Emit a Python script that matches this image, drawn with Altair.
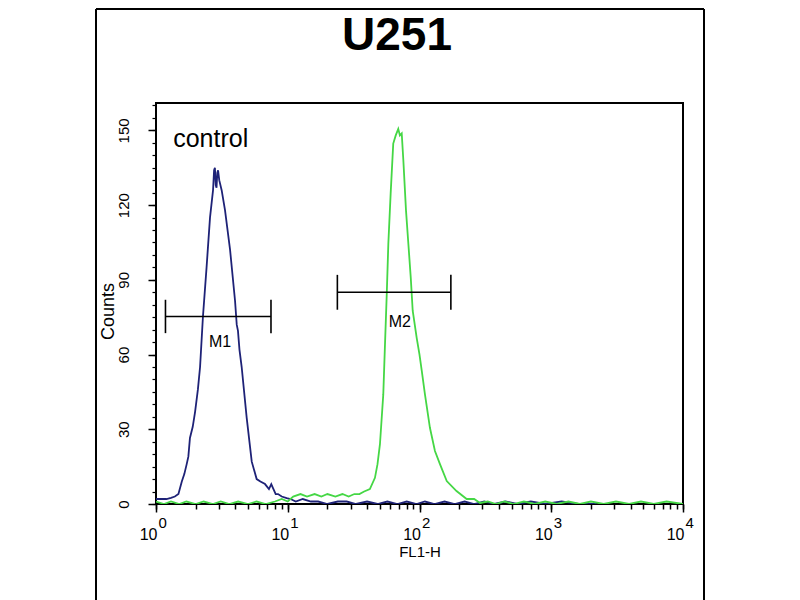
import altair as alt
import pandas as pd

FONT = "Liberation Sans"

# ---- data (FL1-H value, counts) ----
blue_points = [
    (1.0, 2), (1.1, 2), (1.2, 2), (1.3, 2.5), (1.39, 3), (1.48, 4), (1.57, 9),
    (1.64, 12), (1.71, 16), (1.76, 19), (1.81, 26.5), (1.9, 31), (1.98, 37),
    (2.08, 46), (2.16, 55), (2.27, 75), (2.42, 95), (2.57, 115), (2.71, 126),
    (2.76, 134), (2.80, 135), (2.84, 128), (2.88, 127), (2.92, 133), (2.96, 134),
    (3.02, 130), (3.15, 126), (3.34, 118), (3.65, 102), (3.98, 81.6), (4.10, 72),
    (4.19, 69.5), (4.3, 62), (4.47, 55), (4.88, 34.6), (5.33, 17), (5.81, 10),
    (6.2, 9), (6.72, 8), (7.2, 6), (7.5, 8), (7.73, 6.4), (8.1, 4), (8.44, 4),
    (9.0, 3), (9.82, 2.4), (10.5, 2), (11.5, 1), (13, 2), (15, 1), (17, 1),
    (20, 0), (24, 1), (28, 1), (33, 0), (40, 1), (48, 0), (57, 1), (68, 0),
    (80, 1), (95, 0), (110, 1), (130, 0), (155, 1), (185, 0), (220, 1), (260, 0),
    (310, 1), (370, 0), (450, 1), (550, 0), (700, 1), (900, 0), (1200, 1),
    (1600, 0), (2200, 0),
]

green_points = [
    (1.0, 1), (1.15, 0), (1.3, 1), (1.5, 0), (1.7, 1), (2.0, 0), (2.3, 1),
    (2.7, 0), (3.1, 1), (3.6, 0), (4.2, 1), (5.0, 0), (5.8, 1), (6.8, 0),
    (8.0, 1), (9.0, 2), (10.0, 1), (11, 3), (12.5, 4), (14, 3), (16, 4),
    (18, 3), (20, 4), (23, 3), (26, 4), (29, 3), (32, 4), (35, 4), (38, 5),
    (42, 6), (45.9, 10.5), (48, 16), (50.1, 24), (53.1, 44), (54.7, 64),
    (56.4, 84), (58, 104.5), (60.4, 124.6), (63.2, 144.7), (66, 148),
    (69, 150.6), (71, 148), (73.3, 148.8), (75.4, 138), (79, 117.8),
    (82.3, 104.5), (85.8, 91), (88.8, 77.6), (95.2, 66.7), (100, 60),
    (104, 53.5), (110, 44), (120, 30.6), (131, 21.3), (143, 16), (161, 9.2),
    (191, 5.2), (228, 2), (260, 2), (288, 0.4), (330, 1), (380, 0), (440, 1),
    (520, 0), (620, 1), (750, 0), (900, 1), (1100, 0), (1350, 1), (1650, 0),
    (2000, 1), (2500, 0), (3100, 1), (3900, 0), (4800, 1), (6000, 0),
    (7500, 1), (10000, 0),
]

y_major = [0, 30, 60, 90, 120, 150]
y_minor = [0, 5, 10, 15, 20, 25, 30, 35, 40, 45, 50, 55, 60, 65, 70, 75, 80,
           85, 90, 95, 100, 105, 110, 115, 120, 125, 130, 135, 140, 145, 150,
           155, 160]
x_major = [1, 10, 100, 1000, 10000]
x_minor = [2, 3, 4, 5, 6, 7, 8, 9, 20, 30, 40, 50, 60, 70, 80, 90,
           200, 300, 400, 500, 600, 700, 800, 900,
           2000, 3000, 4000, 5000, 6000, 7000, 8000, 9000]

marker_names = ["M1", "M2"]
marker_lo = [1.18, 23.8]
marker_hi = [7.46, 173]
marker_y = [75.3, 85]
marker_cap_lo = [68.6, 78]
marker_cap_hi = [82, 92]
marker_label_x = [3.06, 71]
marker_label_y = [65, 73]

control_label = ["control"]
control_x = [1.35]
control_y = [143.3]

chart_title = ["U251"]

W, H = 527, 401

blue = pd.DataFrame(blue_points, columns=["fl", "count"])
green = pd.DataFrame(green_points, columns=["fl", "count"])
mk = pd.DataFrame({
    "name": marker_names, "lo": marker_lo, "hi": marker_hi, "y": marker_y,
    "clo": marker_cap_lo, "chi": marker_cap_hi,
    "lx": marker_label_x, "ly": marker_label_y,
})
ctrl = pd.DataFrame({"t": control_label, "x": control_x, "y": control_y})
ttl = pd.DataFrame({"t": chart_title})
one = pd.DataFrame({"a": [0]})

xs = alt.Scale(type="log", domain=[1, 10000], nice=False)
ys = alt.Scale(domain=[0, 161], nice=False, zero=False)

x_axis_major = alt.Axis(
    orient="bottom", values=x_major, tickSize=8, tickWidth=1.5, tickColor="black",
    domain=False, grid=False, labelExpr="'10'", labelAlign="right", labelOffset=1,
    labelFont=FONT, labelFontSize=16, labelColor="black", labelPadding=14,
    labelBaseline="top", labelFlush=False, labelOverlap=False,
    title="FL1-H", titleFont=FONT, titleFontSize=15, titleFontWeight="normal",
    titleColor="black", titleX=263.5, titleY=47, titleAlign="center",
    titleBaseline="middle",
)
x_axis_minor = alt.Axis(
    orient="bottom", values=x_minor + x_major, tickSize=5, tickWidth=1.5,
    tickColor="black", domain=False, grid=False,
    labelExpr="indexof([1,10,100,1000,10000], datum.value) >= 0 ? '' + round(log(datum.value)/LN10) : ''",
    labelAlign="left", labelOffset=2, labelFont=FONT, labelFontSize=15,
    labelColor="black", labelPadding=6, labelBaseline="top",
    labelFlush=False, labelOverlap=False, title=None,
)
y_axis_major = alt.Axis(
    orient="left", values=y_major, tickSize=8, tickWidth=1.5, tickColor="black",
    domain=False, grid=False, labelAngle=270, labelAlign="center",
    labelBaseline="bottom", labelPadding=17, labelFont=FONT, labelFontSize=15,
    labelColor="black", labelFlush=False, labelOverlap=False,
    title="Counts", titleFont=FONT, titleFontSize=18, titleFontWeight="normal",
    titleColor="black", titleAngle=270, titleX=-48, titleY=208,
    titleAlign="center", titleBaseline="middle",
)
y_axis_minor = alt.Axis(
    orient="left", values=y_minor, tickSize=4, tickWidth=1.2, tickColor="black",
    domain=False, grid=False, labels=False, title=None,
)

blue_line = alt.Chart(blue).mark_line(color="#1e2277", strokeWidth=1.8, clip=True).encode(
    x=alt.X("fl:Q", scale=xs, axis=x_axis_major),
    y=alt.Y("count:Q", scale=ys, axis=y_axis_major),
)
green_line = alt.Chart(green).mark_line(color="#45d745", strokeWidth=1.8, clip=True).encode(
    x=alt.X("fl:Q", scale=xs, axis=x_axis_minor),
    y=alt.Y("count:Q", scale=ys, axis=y_axis_minor),
)

hbar = alt.Chart(mk).mark_rule(color="black", strokeWidth=1.6).encode(
    x=alt.X("lo:Q", scale=xs, axis=None), x2="hi:Q",
    y=alt.Y("y:Q", scale=ys, axis=None),
)
cap_l = alt.Chart(mk).mark_rule(color="black", strokeWidth=1.6).encode(
    x=alt.X("lo:Q", scale=xs, axis=None),
    y=alt.Y("clo:Q", scale=ys, axis=None), y2="chi:Q",
)
cap_r = alt.Chart(mk).mark_rule(color="black", strokeWidth=1.6).encode(
    x=alt.X("hi:Q", scale=xs, axis=None),
    y=alt.Y("clo:Q", scale=ys, axis=None), y2="chi:Q",
)
mlabel = alt.Chart(mk).mark_text(font=FONT, fontSize=16, color="black",
                                 align="center", baseline="middle").encode(
    x=alt.X("lx:Q", scale=xs, axis=None),
    y=alt.Y("ly:Q", scale=ys, axis=None),
    text="name:N",
)
ctext = alt.Chart(ctrl).mark_text(font=FONT, fontSize=25, color="black",
                                  align="left", baseline="alphabetic").encode(
    x=alt.X("x:Q", scale=xs, axis=None),
    y=alt.Y("y:Q", scale=ys, axis=None),
    text="t:N",
)
title_text = alt.Chart(ttl).mark_text(font=FONT, fontSize=46, fontWeight="bold",
                                      color="black", align="center",
                                      baseline="alphabetic", clip=False).encode(
    x=alt.value(241), y=alt.value(-53), text="t:N",
)

# outer frame of the figure (decoration)
frame_l = alt.Chart(one).mark_rule(color="black", strokeWidth=2, clip=False).encode(
    x=alt.value(-60), y=alt.value(-94), y2=alt.value(497))
frame_r = alt.Chart(one).mark_rule(color="black", strokeWidth=2, clip=False).encode(
    x=alt.value(548), y=alt.value(-94), y2=alt.value(497))
frame_t = alt.Chart(one).mark_rule(color="black", strokeWidth=2, clip=False).encode(
    x=alt.value(-60), x2=alt.value(548), y=alt.value(-94))

chart = alt.layer(
    blue_line, green_line, hbar, cap_l, cap_r, mlabel, ctext, title_text,
    frame_l, frame_r, frame_t
).resolve_axis(
    x="independent", y="independent"
).properties(
    width=W, height=H,
    autosize=alt.AutoSizeParams(type="none"),
    padding={"left": 148, "top": 95, "right": 90, "bottom": 100},
    background="white",
).configure_view(stroke="black", strokeWidth=2)

chart.save("out.html", embed_options={"renderer": "svg", "actions": False})
